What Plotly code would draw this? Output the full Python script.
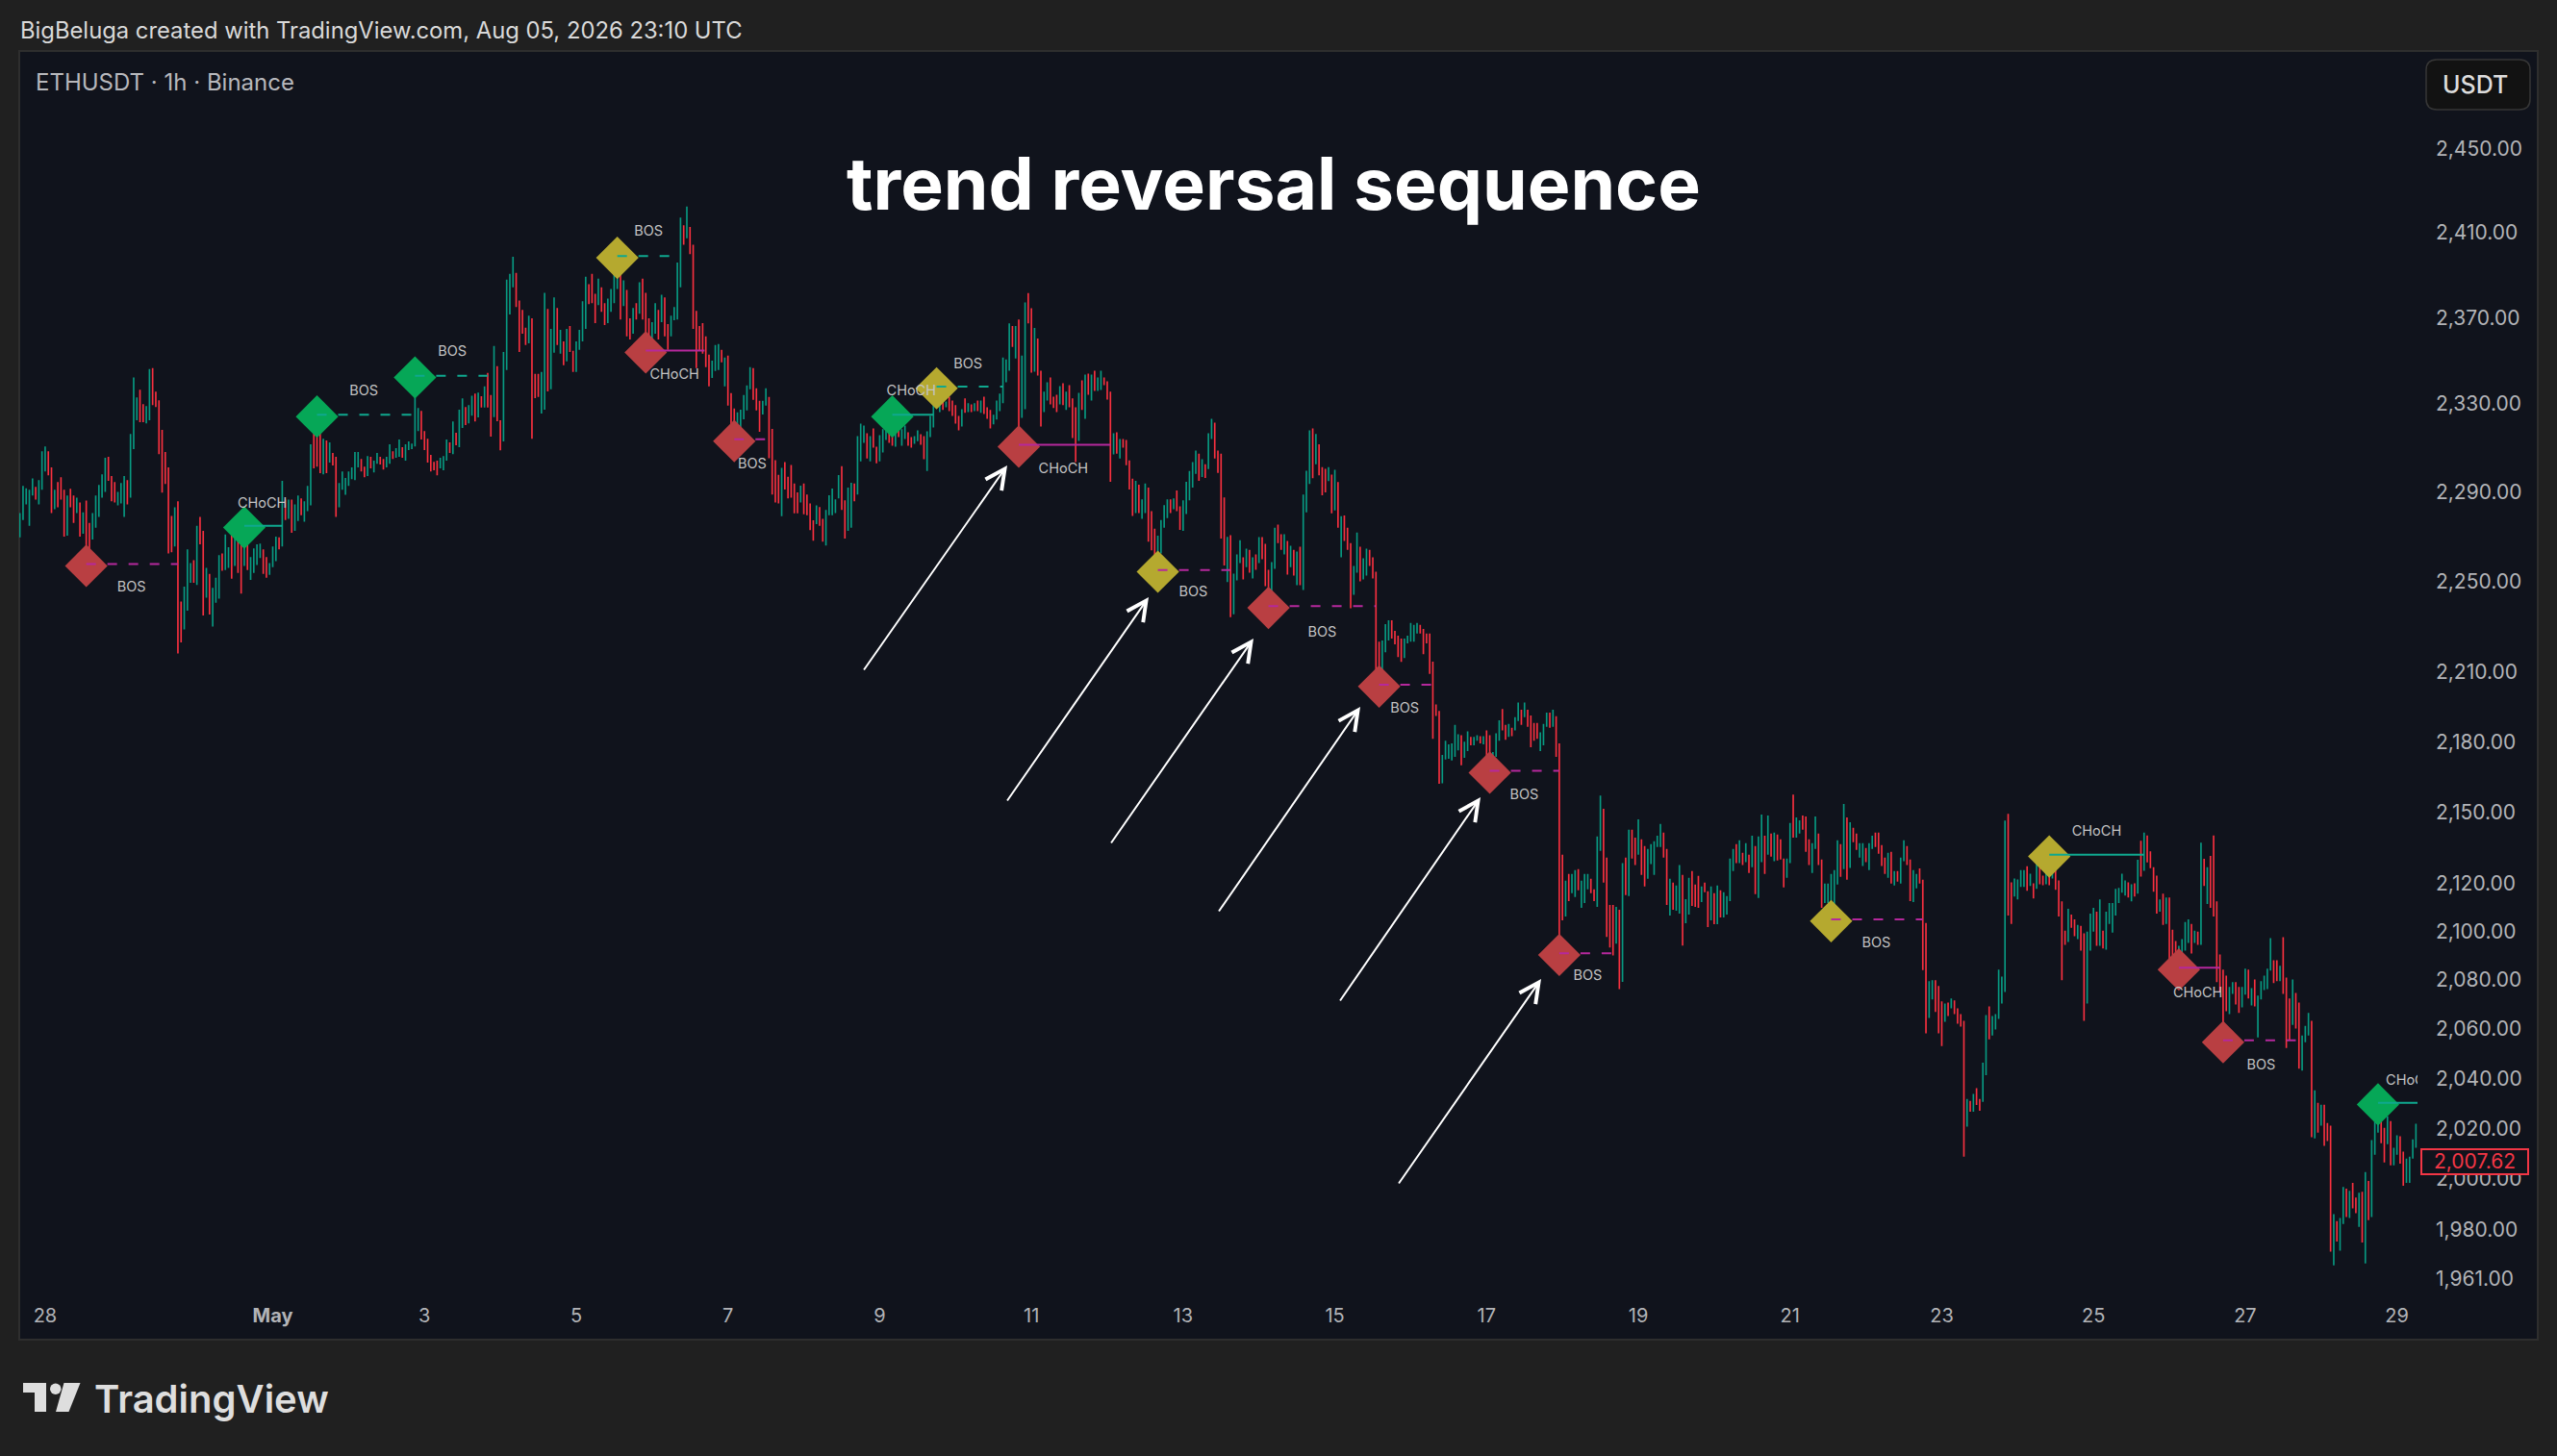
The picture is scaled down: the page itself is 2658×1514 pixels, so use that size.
import math
import pandas as pd
import plotly.graph_objects as go

W, H = 2658, 1514
START = pd.Timestamp("2026-04-27 16:00")

# ---- hourly bars ----
highs_a = [2280.4,2292.7,2291.6,2290.9,2296,2292.2,2295.3,2308.4,2310.6,2308.4,
 2301,2290.9,2294.4,2296.6,2290.9,2288.3,2291.4,2288.3,2287.4,2285.2,
 2280.8,2286.1,2276,2280.4,2288.3,2293.1,2297.9,2305.4,2305.8,2297.1,
 2294.4,2290,2294,2297.1,2295.3,2316.3,2342.2,2333,2336.5,2329.9,
 2329,2346.1,2346.5,2335.6,2331.7,2318.1,2308,2301,2279.1,2283,
 2285.7,2241,2247.6,2264.2,2258.1,2259.4,2274.7,2278.7,2272.5,2255.9,
 2253.3,2247.1,2251.5,2261.6,2262.4,2270.8,2265.1,2273.4,2270.3,2272.1,
 2269.9,2273.4,2266.4,2260.7,2264.6,2266.4,2266.8,2264.2,2260.7,2258.1,
 2265.5,2269.9,2269.5,2294.9,2286.5,2286.5,2286.5,2284.3,2288.3,2287,
 2285.7,2292.7,2311.5,2325.1,2325.1,2316.8,2314.1,2313.3,2312.4,2307.6,
 2305.8,2294,2299.2,2296.2,2299.2,2301,2308,2308,2304.9,2301.4,
 2306.2,2305.8,2304.1,2307.6,2305.8,2304.9,2305.8,2311.5,2308.4,2309.8,
 2313.7,2310.2,2311.5,2312.8,2311.9,2343,2328.1,2326.8,2317.6,2314.1,
 2306.7,2303.6,2304.1,2305.4,2306.2,2313.7,2312.4,2322,2316.8,2327.3,
 2332.5,2328.6,2329.5,2333.8,2334.7,2335.2]
lows_a = [2269.5,2277.3,2284.3,2274.7,2288.3,2286.5,2284.3,2290.9,2299.2,2297.5,
 2280.4,2282.2,2283,2286.5,2269.9,2270.3,2283,2276,2280.4,2269.9,
 2271.2,2257.6,2260.3,2268.6,2273.8,2278.7,2287.4,2290,2294.9,2285.7,
 2285.2,2283.9,2284.8,2278.7,2284.3,2287.4,2309.3,2322.5,2321.6,2321.6,
 2321.1,2322.5,2329.5,2328.6,2307.1,2289.6,2293.5,2262.4,2262.9,2265.5,
 2218.2,2223,2228.7,2237,2249.3,2249.3,2248.4,2266.4,2234.9,2242.7,
 2235.3,2230,2240.5,2242.3,2254.6,2255,2255.9,2251.1,2256.8,2253.7,
 2244.5,2256.8,2255,2250.6,2253.7,2257.2,2260.3,2253.3,2251.5,2252.8,
 2256.3,2258.9,2264.2,2265.5,2277.3,2277.8,2271.6,2272.5,2276.9,2279.5,
 2276.5,2281.3,2283.9,2300.6,2301.4,2298.4,2297.9,2298.4,2303.2,2301.9,
 2278.7,2283,2290.9,2288.7,2292.7,2295.7,2295.3,2301,2299.2,2296.6,
 2297.1,2300.6,2298.8,2302.7,2302.3,2300.1,2301,2302.7,2304.9,2305.4,
 2305.8,2305.4,2304.1,2308.9,2309.3,2310.6,2317.6,2313.7,2308.9,2303.2,
 2299.2,2299.7,2297.5,2300.6,2299.7,2304.1,2307.6,2307.1,2311.1,2310.2,
 2319,2320.3,2321.1,2324.6,2322,2323.8]
dirs_a = ("gggggrgggr" "rgrrrgrrgr" "grrgggggrr" "rgggrgggrr" "ggrrrrrrrg"
 "rrgggrgrrg" "rgggrggrgr" "rgrggggrrg" "ggrgrgrggr" "gggrrrgrgr"
 "rgggggggrr" "grggrrggrg" "grgggggrrr" "rrrgggrgrg" "grggrg")

highs_b = [2333.5,2338.1,2344.3,2334.1,2356.7,2347.4,2322.5,2354,2387.8,2390.5,
 2398.5,2390.9,2378,2373.6,2365.2,2370.9,2369.6,2343.8,2343.8,2344.7,
 2381.6,2374,2364.7,2379.4,2374.5,2364.3,2358.9,2364.7,2366,2354.5,
 2358.9,2364.3,2377.6,2389.1,2385.6,2390.5,2381.1,2388.2,2384.2,2376.7,
 2378.9,2383.4,2390,2398.9,2391.8,2387.4,2382.9,2369.6,2374.5,2376.7,
 2386.5,2388.2,2381.6,2369.6,2367.8,2376.7,2373.6,2380.7,2379.4,2366.9,
 2370.9,2374.9,2395.8,2417.1,2413.5,2422.4,2412.7,2404.2,2373.1,2366,
 2367.4,2361.2,2352.7,2350,2357.2,2357.6,2355,2351.4,2352.3,2335,
 2327.9,2326.1,2327.4,2334.1,2338.5,2346.9,2346.5,2337.2,2331.4,2331.4,
 2337.2,2333.2,2318.5,2304.3,2297.7,2300.8,2303.4,2296.8,2302.1,2293.7,
 2289.7,2292.8,2293.7,2288.8,2284.8,2277.2,2283.9]
lows_b = [2328.3,2328.3,2328.3,2315,2323.9,2322.1,2308.8,2312.8,2345.6,2371.4,
 2384.2,2374.9,2354,2362.5,2357.2,2358,2314.1,2332.7,2333.2,2325.6,
 2327.4,2335.8,2336.7,2353.6,2357.2,2353.2,2347.8,2349.6,2354,2344.7,
 2344.7,2355,2358.9,2364.7,2376.3,2376.7,2367.4,2375.8,2372.7,2366.5,
 2367.4,2372.7,2376.7,2383.4,2369.1,2375.4,2361.2,2359.8,2362.5,2369.1,
 2371.8,2369.1,2354.5,2354.5,2355,2362.5,2359.8,2367.8,2361.2,2355,
 2361.2,2368.7,2369.1,2384.2,2404.2,2407.3,2399.8,2364.7,2346.5,2354.5,
 2353.2,2346.9,2338.1,2342,2345.2,2345.6,2349.2,2338.1,2329.2,2314.1,
 2318.1,2315,2319,2323,2327,2336.7,2331.9,2327,2317.2,2325.2,
 2329.2,2305.2,2288.8,2285.2,2284.8,2279,2291,2287,2287.4,2280.3,
 2280.3,2285.2,2279.9,2279.5,2272.8,2268,2275.5]
dirs_b = ("rgrrgrrggg" "grrrrgrrrg" "grggrgrgrr" "ggggrrrgrr" "ggggrgrrgr"
 "grrrggrgrr" "ggggrgrrrr" "rrrgggrgrr" "rgggggrrrg" "grrrrgrrrr" "rgrrrrg")

highs_c = [2283.1,2277.8,2281.8,2288.4,2291.5,2286.6,2297.6,2301.6,2286.2,2291.9,
 2294.1,2293.7,2315.3,2321,2320.1,2316.6,2315.3,2318.8,2310.4,2315.7,
 2318.4,2320.1,2322.3,2325,2317.5,2319.2,2318.4,2320.1,2317,2314.8,
 2315.3,2317.9,2316.1,2315.3,2317.5,2324.5,2333.8,2338.2,2332.9,2332.9,
 2331.1,2333.3,2331.6,2329.4,2324.5,2327.6,2332.5,2330.3,2329.8,2330.3,
 2331.6,2331.6,2333.3,2328.5,2327.2,2325,2331.6,2334.7,2351.4,2350.5,
 2367.3,2366,2366,2369.1,2352.3,2377,2381.4,2374.4,2365.1,2360.2,
 2345.3,2335.6,2340,2342.2,2333.3,2334.2,2338.2,2339.5,2335.6,2338.6,
 2332.5,2328.5,2335.1,2340.8,2343.5,2343.9,2343.5,2345.3,2342.2,2345.3,
 2342.2,2340.4,2335.6,2316.6,2317,2313.9,2313.9,2313.5,2304.2,2295.9,
 2295,2293.2,2286.6,2293.7,2291.9,2281.3,2273.4,2270.3,2277.3,2284,
 2286.6,2286.6,2287,2290.6,2283.5,2286.2,2294.5,2299.4,2303.4,2308.7,
 2307.3,2304.7,2302.5,2316.6,2323.2,2321.4,2308.7,2307.3,2287.5,2269.8,
 2270.5,2253.4]
lows_c = [2274.7,2267.6,2265.9,2279.5,2279.5,2280.4,2287,2281.8,2269,2272.5,
 2273.8,2285.7,2288.8,2303.8,2312.2,2305.1,2303.8,2310,2302.9,2303.8,
 2307.8,2313.5,2312.2,2310.9,2310.4,2314.8,2310.9,2313.9,2310.9,2310,
 2311.7,2313,2311.3,2304.7,2299.4,2314.8,2319.2,2328.5,2326.3,2327.2,
 2328.5,2326.7,2324.5,2321,2317.9,2319.7,2325.9,2326.3,2326.3,2326.7,
 2326.7,2325.9,2325.4,2323.2,2318.8,2320.6,2322.8,2326.7,2330.3,2340,
 2345.3,2356.3,2351,2311.3,2323.6,2327.6,2367.3,2344.4,2344.8,2343.1,
 2319.7,2326.3,2331.6,2329.8,2328.1,2326.3,2329.8,2329.4,2327.2,2328.5,
 2314.4,2303.4,2313.1,2327.2,2323.2,2334.2,2331.6,2336,2336,2336.4,
 2338.6,2332,2294.5,2306.9,2307.3,2305.1,2310,2302,2291,2279.1,
 2280.4,2280.4,2277.8,2280.4,2267.6,2263.7,2255.3,2254.8,2262.3,2273.8,
 2278.2,2280.4,2282.2,2281.3,2272.9,2272.5,2280,2286.2,2291.9,2298.1,
 2295,2296.7,2296.3,2300.3,2313.9,2305.1,2298.5,2269,2257,2249.6,
 2234.1,2235.4]
dirs_c = ("rrgggggrrg" "grgggrgrrg" "ggrrgrggrr" "ggrrgggggr" "grrrrgrgrg"
 "rgrrrggggg" "grgrggrrgr" "rggrrrgrgr" "rrgrgrgrgg" "rrrgrgrrrr"
 "grggrrrggg" "grgrrggggg" "rgrggrrrrg" "rg")

highs_d = [2261.9,2268.3,2260.6,2264.5,2264,2260.6,2261.9,2269.6,2269.6,2266.6,
 2255.1,2258.5,2273.9,2275.2,2270.9,2270.9,2267.9,2265.8,2264,2263.2,
 2265.3,2288.8,2299.5,2317.9,2318.8,2316.2,2311.5,2301.2,2300.4,2301.2,
 2297.8,2300,2294.4,2279,2279.4,2273.9,2267,2256.8,2271.7,2265.3,
 2260.2,2264.5,2264,2260.6,2254.2,2223.4,2223.9,2231.1,2232.8,2232.8,
 2228.1,2226,2224.7,2224.7,2226,2231.6,2230.7,2231.6,2230.7,2229,
 2226.9,2226.9,2214.6,2196,2193.2]
lows_d = [2250.4,2258.1,2250.8,2256.3,2253.8,2251.2,2255.1,2258.1,2259.8,2247.8,
 2239.7,2239.7,2255.5,2267,2264,2261.9,2252.9,2256.3,2252.5,2248.2,
 2248.2,2246.1,2280.7,2293.5,2296.1,2302.5,2297.4,2288.4,2289.7,2294.8,
 2280.3,2281.6,2273.9,2260.6,2267.9,2264,2238,2244,2253.8,2249.9,
 2250.8,2252.5,2256.8,2251.2,2209.8,2204.6,2209.3,2218.7,2223.9,2224.7,
 2222.2,2216.6,2214.5,2216.2,2222.6,2223.4,2223.4,2226.9,2226.9,2217.9,
 2222.6,2209.3,2181.2,2191,2162]
dirs_d = ("ggrgrgrgrr" "rggrrgrgrg" "rgggrgrrrg" "rgrgrrrggr" "ggrrrrgggr"
 "rrrgggggrr" "rrrrr")

highs_e = [2174.3,2180.4,2178.8,2179.2,2187.2,2183.2,2182.8,2180,2184.4,2182,
 2182,2182.8,2182.4,2182.4,2184.8,2182.8,2175.5,2183.6,2189.2,2194.1,
 2187.2,2187.6,2186,2190.5,2196.9,2193.7,2196.9,2193.7,2191.3,2188,
 2188,2184,2187.6,2192.5,2192.5,2193.7,2190.9,2179.2,2132,2121.1,
 2123.9,2123.9,2125.5,2125.9,2121.1,2123.9,2123.9,2121.9,2117.5,2139.7,
 2157,2151.3,2130.8,2111,2111,2110.2,2109,2128.4,2130.8,2142.5,
 2142.5,2139.2,2146.9,2138.4,2135.6,2134.4,2136.4,2137.6,2140,2144.9,
 2141.3,2134.4,2121.9,2120.3,2119.1,2127.6,2123.5,2113.4,2122.3,2125.1,
 2119.5,2123.1,2118.7,2120.3,2116.7,2118.7,2115.9,2119.1,2117.1,2116.3,
 2114.7,2130.4,2134.4,2136.4,2138,2132.8,2136.8,2132,2140,2135.6,
 2139.7,2148.9,2140,2148.5,2140.9,2141.3,2140.5,2138.4,2130.4,2130.4,
 2145.3,2157.4,2147.7,2146.5,2148.5,2148.1,2138.4,2136.8,2148.1,2140.9,
 2130,2119.9,2119.9,2123.9,2125.5,2138,2136.4,2153.4,2147.7,2145.7,
 2143.3,2140.9,2136.8,2136.8,2134.8,2136.8,2140,2141.3,2141.3,2136,
 2130.8,2132.8,2133.2,2125.1,2125.1,2130.8,2138,2135.6,2130,2125.5,
 2123.9,2126.2,2121.5]
lows_e = [2162.2,2172.3,2172.7,2171.9,2173.5,2176.3,2169.9,2173.1,2175.9,2178.4,
 2178.4,2180.4,2179.2,2178.8,2173.5,2167.5,2168.3,2173.5,2180.4,2184.8,
 2180.8,2182,2182.4,2184.8,2188.9,2187.2,2190.5,2186.4,2177.6,2180.4,
 2181.2,2175.9,2178.4,2186.4,2186,2186.4,2173.5,2091.3,2104.6,2106.2,
 2112.6,2115.9,2114.3,2117.1,2109.8,2111.8,2117.5,2115.9,2112.6,2110.2,
 2133.6,2120.3,2097.7,2093.3,2090.1,2094.9,2076.3,2079.2,2115.1,2114.7,
 2130.4,2127.6,2132,2123.5,2118.7,2121.9,2128,2123.5,2135.2,2135.2,
 2130.8,2111,2106.6,2109,2108.6,2107.4,2094.1,2103.4,2107,2110.6,
 2110.2,2109.8,2112.2,2116.3,2101.8,2104.6,2103,2103,2105.8,2105.8,
 2107,2112.6,2125.1,2128.4,2128.4,2127.6,2128.8,2124.3,2126.7,2115.5,
 2113.9,2128.8,2123.9,2132,2131.2,2129.2,2129.6,2130,2118.3,2122.3,
 2128.4,2139.2,2139.2,2140.9,2142.5,2133.2,2127.6,2124.3,2134.4,2127.6,
 2109.8,2111.8,2111.8,2105,2110.6,2119.5,2122.7,2125.9,2121.5,2126.4,
 2137.2,2134,2130.8,2127.2,2128.8,2125.5,2134.4,2135.2,2132.4,2127.2,
 2123.9,2122.3,2119.9,2119.1,2120.7,2119.9,2129.2,2127.6,2112.6,2112.2,
 2117.9,2119.9,2084]
dirs_e = ("ggggggrggr" "ggrgrrgggr" "rgrggrgrrr" "rgggrgrrrg" "rggrgggrrg"
 "grrrrgrgrg" "rrgrrggggg" "rrgrggrggr" "rrgrrgrgrg" "gggrgrgrgr"
 "ggrgrgrrrg" "grggrrrggr" "rgggggrgrg" "rrggrggrrr" "rgrgrggrrg" "grr")

highs_f = [2103.5,2079.5,2079.9,2079.9,2077.5,2071.2,2070.4,2070.8,2072.4,2071.6,
 2068.4,2066.1,2063.3,2031.8,2031,2033.8,2036.1,2031.8,2046.4,2065.7,
 2069.2,2065.3,2066.1,2084.2,2081.4,2146.4,2149.2,2120.4,2122,2121.6,
 2125.5,2125.5,2127.1,2124,2120,2129.9,2129.5,2123.2,2127.5,2131.9,
 2127.5,2126.3,2121.2,2112.5,2100.3,2109.4,2107,2105,2102.7,2102.3,
 2099.2,2099.9,2107.4,2109.8,2108.2,2113.3,2100.3,2108.2,2111.8,2111.8,
 2117.7,2118.1,2124,2121.2,2120.4,2119.6,2120,2129.9,2137.8,2141.3,
 2140.1,2133.4,2126.7,2123.2,2113.3,2115.7,2114.1,2114.1,2100.7,2096,
 2094,2096.8,2103.9,2105,2103.1,2100.3,2099.9,2137,2130.3,2126.7,
 2131.5,2140.1,2112.5,2090.5,2084.2,2081.8,2077.1,2079.1,2079.1,2077.1,
 2077.1,2084.6,2084.2,2076.7,2080.2,2073.6,2079.5,2081.8,2084.6,2097.2,
 2088.1,2088.1,2085.8,2097.6,2081,2072.4,2080.2,2074.7,2070.8,2057.4,
 2061.3,2066.5]
lows_f = [2058.2,2064.5,2072,2066.9,2058.2,2053.1,2062.9,2065.3,2068.4,2066.1,
 2062.1,2061,2008.8,2020.8,2026.7,2026.7,2029.4,2027.1,2030.6,2041.3,
 2055.8,2057.4,2059.8,2064.1,2070.4,2075.1,2106.6,2103.1,2114.5,2113.3,
 2118.5,2118.5,2116.9,2118.9,2113.7,2117.7,2119.6,2119.2,2119.6,2119.2,
 2122,2117.3,2106.2,2079.9,2094.4,2095.6,2101.5,2098,2096.8,2092.1,
 2063.3,2070.4,2092.1,2099.9,2094,2094,2092.9,2092.5,2103.1,2099.5,
 2106.6,2111.8,2116.1,2114.9,2114.1,2112.5,2114.5,2115.7,2122.8,2125.2,
 2128.7,2126.3,2116.5,2107.4,2108.2,2102.7,2103.1,2085.4,2085.8,2085.4,
 2085,2088.5,2092.1,2095.2,2090.9,2095.2,2094.4,2094.4,2118.9,2111.4,
 2109.8,2106.2,2079.1,2075.1,2055.4,2067.2,2066.1,2074.3,2070,2066.5,
 2068.8,2074,2072.4,2069.6,2069.2,2056.6,2072,2075.9,2076.3,2083.8,
 2078.7,2079.5,2079.5,2074.3,2052.3,2055.4,2061.7,2060.2,2044,2043.2,
 2054.6,2057.4]
dirs_f = ("rggrrrgrgr" "rrrgrgrrgg" "rgggggrrgg" "ggrgrgrrgr" "grrrrgrrgr"
 "rgggrgrggg" "ggggrgrgrg" "rrrrgrgrrr" "ggggrgrgrg" "rrrrrrggrr"
 "ggrgrggggg" "rrgrrrgrrg" "gg")

highs_g = [2063.3,2035.3,2030.3,2029.5,2029.5,2022.2,2021.1,1986.2,1983.5,1984.7,
 1996.9,1996.2,1995.4,1998.5,1992.7,1994.6,1995,2002.7,1999.2,2015.4,
 2027.6,2030.3,2025.3,2020.3,2024.9,2023,2012.3,2017.3,2016.9,2010.8,
 2008.1,2008.8,2015.7,2021.9]
lows_g = [2016.5,2016.1,2018.4,2021.1,2013.1,2015,1971.6,1966.3,1975.5,1972,
 1982.4,1985.1,1984.7,1988.5,1986.6,1981.2,1975.1,1967,1983.9,1985.1,
 2009.6,2018.4,2014.2,2006.5,2013.8,2005.4,2005.4,2009.6,2006.1,1997.3,
 1998.5,1998.5,2008.1,2012.3]
dirs_g = "rgrgrrrgrg" "grgrrgrgrg" "ggrrgrggrr" "gggg"

# ---- structure signals ----
sig_start = [21,71,94,125,189,198,226,276,290,316,360,395,430,465,487,573,642,683,697,746]
sig_end   = [50,83,125,148,208,216.6,237,289,311,345,383,429,447,487,504,602,672,696,720,762]
sig_level = [2257.6,2274.7,2325,2343,2398.9,2354.6,2313.8,2325,2338,2311.3,2255,2239,
             2204.6,2167.5,2091,2105,2132,2085,2055.4,2030.3]
sig_up    = [0,1,1,1,1,0,0,1,1,0,0,0,0,0,0,0,1,0,0,1]
sig_fill  = ["red","green","green","green","yellow","red","red","green","yellow","red",
             "yellow","red","red","red","red","yellow","yellow","red","red","green"]
sig_label = ["BOS","CHoCH","BOS","BOS","BOS","CHoCH","BOS","CHoCH","BOS","CHoCH",
             "BOS","BOS","BOS","BOS","BOS","BOS","CHoCH","CHoCH","BOS","CHoCH"]
label_bar = [35.3,76.7,108.8,136.8,198.9,207.1,231.7,282,299.9,330.1,371.2,412,438.1,
             475.9,496,587.3,657,689,709,756.3]
label_price = [2247.1,2284.4,2335.8,2353.6,2410,2343,2302,2335.8,2348.2,2300.2,2245,2227,
               2194,2157,2081.6,2095,2141.3,2074.5,2045.2,2039]

price_ticks = [2450,2410,2370,2330,2290,2250,2210,2180,2150,2120,2100,2080,2060,2040,2020,2000,1980,1961]
date_ticks = ["2026-04-28","2026-05-01","2026-05-03","2026-05-05","2026-05-07","2026-05-09","2026-05-11",
              "2026-05-13","2026-05-15","2026-05-17","2026-05-19","2026-05-21","2026-05-23","2026-05-25",
              "2026-05-27","2026-05-29"]
date_labels = ["28","<b>May</b>","3","5","7","9","11","13","15","17","19","21","23","25","27","29"]
last_price = 2007.62

# annotated arrows, (tail x, tail y, head x, head y) in page pixels
arrow_tail_x = [897,1046,1154,1266,1392,1453]
arrow_tail_y = [698,834,878,949,1042,1232]
arrow_head_x = [1047,1194,1303,1414,1539,1602]
arrow_head_y = [484,621,664,735,829,1018]

highs = highs_a+highs_b+highs_c+highs_d+highs_e+highs_f+highs_g
lows = lows_a+lows_b+lows_c+lows_d+lows_e+lows_f+lows_g
dirs = dirs_a+dirs_b+dirs_c+dirs_d+dirs_e+dirs_f+dirs_g
n = min(len(highs), len(lows), len(dirs))
highs, lows, dirs = highs[:n], lows[:n], dirs[:n]
opens = [l if d == "g" else h for h, l, d in zip(highs, lows, dirs)]
closes = [h if d == "g" else l for h, l, d in zip(highs, lows, dirs)]
times = pd.date_range(START, periods=n, freq="h")

def at(i):
    return START + pd.Timedelta(hours=float(i))
def px(x):
    return x / W
def py(y):
    return 1 - y / H

PANEL = "#10131c"
PAGE = "#202020"
BORDER = "#2e2e2e"
GREEN = "#089981"
RED = "#f7303f"
TEAL = "#0fa88e"
MAGENTA = "#b5289c"
FILL = {"red": "#b93f42", "green": "#06a757", "yellow": "#b5a92f"}

fig = go.Figure()

fig.add_trace(go.Scatter(
    x=[at(i) for i in sig_start], y=[v * 0.99965 for v in sig_level], mode="markers",
    marker=dict(symbol="diamond", size=34, color=[FILL[c] for c in sig_fill], line=dict(width=0)),
    hoverinfo="skip", cliponaxis=True))

for colour, want_up in ((TEAL, 1), (MAGENTA, 0)):
    for style in ("BOS", "CHoCH"):
        xs, ys = [], []
        for s, e, lvl, up, lab in zip(sig_start, sig_end, sig_level, sig_up, sig_label):
            if up != want_up or lab != style:
                continue
            xs += [at(s), at(e), None]
            ys += [lvl, lvl, None]
        fig.add_trace(go.Scatter(x=xs, y=ys, mode="lines", hoverinfo="skip",
                                 line=dict(color=colour, width=2,
                                           dash="10px,12px" if style == "BOS" else "solid")))

fig.add_trace(go.Candlestick(
    x=times, open=opens, high=highs, low=lows, close=closes,
    increasing=dict(line=dict(color=GREEN, width=0), fillcolor=GREEN),
    decreasing=dict(line=dict(color=RED, width=0), fillcolor=RED),
    whiskerwidth=0, hoverinfo="skip"))

fig.add_trace(go.Scatter(
    x=[at(i) for i in label_bar], y=label_price, mode="text", text=sig_label,
    textfont=dict(family="Inter", size=14.5, color="#c4c4c4"),
    textposition="middle center", hoverinfo="skip", cliponaxis=True))

shapes = [
    dict(type="rect", xref="paper", yref="paper", x0=px(20), x1=px(2638), y0=py(53), y1=py(1393),
         fillcolor=PANEL, line=dict(color=BORDER, width=2), layer="below"),
]

def rrect(x0, y0, x1, y1, r):
    a, b, c, d = px(x0), py(y0), px(x1), py(y1)
    rx, ry = r / W, r / H
    return (f"M{a+rx},{b} L{c-rx},{b} Q{c},{b} {c},{b-ry} L{c},{d+ry} Q{c},{d} {c-rx},{d} "
            f"L{a+rx},{d} Q{a},{d} {a},{d+ry} L{a},{b-ry} Q{a},{b} {a+rx},{b} Z")

shapes.append(dict(type="path", xref="paper", yref="paper", path=rrect(2522, 62, 2630, 114, 11),
                   fillcolor="#121212", line=dict(color="#363636", width=1.5), layer="above"))
shapes.append(dict(type="rect", xref="paper", yref="paper", x0=px(2517), x1=px(2628), y0=py(1195), y1=py(1221),
                   fillcolor=PANEL, line=dict(color="#f23645", width=2), layer="above"))

# logo glyph
def poly(points):
    return "M" + " L".join(f"{px(x)},{py(y)}" for x, y in points) + " Z"
LOGO = "#dedede"
shapes.append(dict(type="path", xref="paper", yref="paper", line=dict(width=0), fillcolor=LOGO,
                   path=poly([(24,1438),(48,1438),(48,1468),(36,1468),(36,1448),(24,1448)])))
shapes.append(dict(type="path", xref="paper", yref="paper", line=dict(width=0), fillcolor=LOGO,
                   path=poly([(66.5,1438),(83.5,1438),(71.5,1468),(58,1468)])))
shapes.append(dict(type="circle", xref="paper", yref="paper", line=dict(width=0), fillcolor=LOGO,
                   x0=px(52), x1=px(63.5), y0=py(1438.5), y1=py(1450)))

def label(x, y, text, size, color, anchor="left", weight=400):
    return dict(xref="paper", yref="paper", x=px(x), y=py(y), text=text, showarrow=False,
                xanchor=anchor, yanchor="middle", borderpad=0,
                font=dict(family="Inter", size=size, color=color, weight=weight))

annotations = [
    label(20, 32, "BigBeluga created with TradingView.com, Aug 05, 2026 23:10 UTC", 23.8, "#d9d9d9"),
    label(36, 86, "ETHUSDT · 1h · Binance", 24, "#b7b8bc"),
    label(2573, 88, "USDT", 25, "#dcdcdc", "center", 500),
    label(1324, 190, "trend reversal sequence", 75, "#ffffff", "center", 700),
    label(2572.5, 1207, f"{last_price:,.2f}", 21, "#f23645", "center"),
    label(97, 1454, "TradingView", 40, LOGO, "left", 600),
]
for tx, ty, hx, hy in zip(arrow_tail_x, arrow_tail_y, arrow_head_x, arrow_head_y):
    annotations.append(dict(xref="paper", yref="paper", x=px(hx), y=py(hy), axref="pixel", ayref="pixel",
                            ax=tx - hx, ay=ty - hy, text="", showarrow=True, arrowhead=5, arrowsize=2.0,
                            arrowwidth=2, arrowcolor="#ffffff", standoff=0))

TOP_P = 2497.8
BOT_P = 1955.4
fig.update_layout(
    width=W, height=H, autosize=False,
    margin=dict(l=0, r=0, t=0, b=0),
    paper_bgcolor=PAGE, plot_bgcolor="rgba(0,0,0,0)",
    showlegend=False, boxgap=0.28, hovermode=False,
    shapes=shapes, annotations=annotations,
    xaxis=dict(domain=[px(20), px(2513)], type="date",
               range=[at(-0.2), at(758.5)],
               rangeslider=dict(visible=False), showgrid=False, zeroline=False, showline=False,
               tickvals=date_ticks, ticktext=date_labels, ticks="", ticklabelstandoff=9,
               tickfont=dict(family="Inter", size=20, color="#b2b3b7")),
    yaxis=dict(domain=[py(1345), py(53)], type="log", side="right",
               range=[math.log10(BOT_P), math.log10(TOP_P)],
               showgrid=False, zeroline=False, showline=False,
               tickvals=price_ticks, ticktext=[f"{v:,.2f}" for v in price_ticks], ticks="",
               ticklabelstandoff=18,
               tickfont=dict(family="Inter", size=21, color="#b2b3b7")),
)

fig.write_html("out.html", config=dict(displayModeBar=False),
               post_script="document.body.style.margin='0';document.body.style.background='#202020';")
